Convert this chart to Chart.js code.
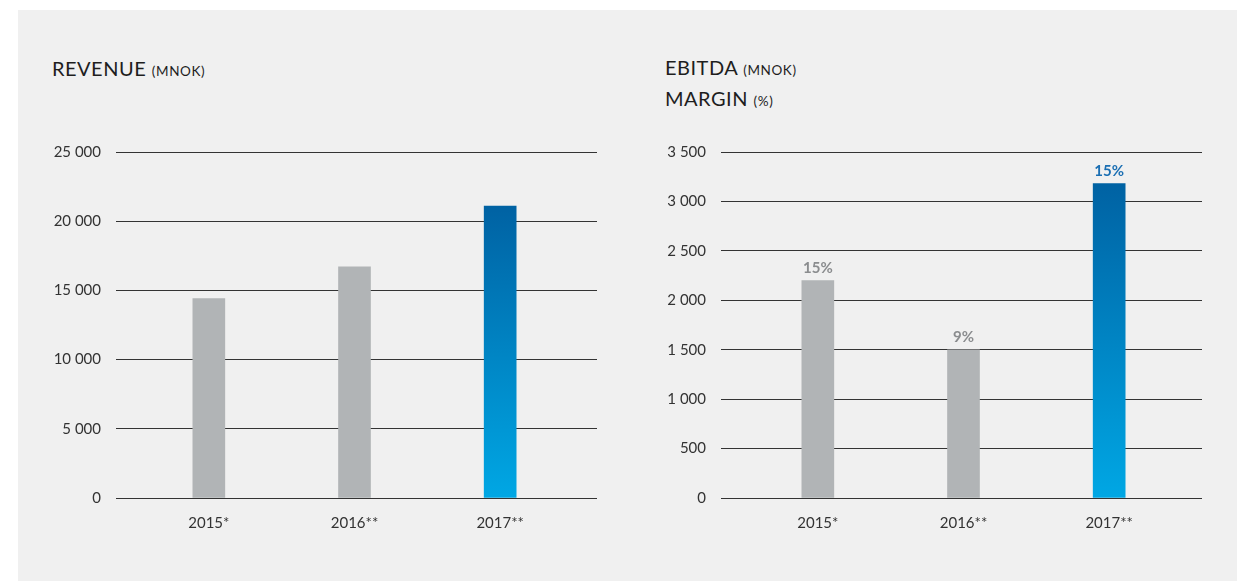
<!DOCTYPE html>
<html>
<head>
<meta charset="utf-8">
<script src="https://cdn.jsdelivr.net/npm/chart.js@4.4.1/dist/chart.umd.min.js"></script>
<style>
  body { margin: 0; background: #fff; width: 1253px; height: 581px; overflow: hidden; font-family: Lato, sans-serif; }
  #panel { position: absolute; left: 18px; top: 10px; width: 1219px; height: 571px; background: #f0f0f0; }
  .title { position: absolute; color: #1e1e1e; font-size: 20px; line-height: 28px; letter-spacing: 0.5px; }
  .title small { font-size: 13.5px; letter-spacing: 0.6px; }
  canvas { position: absolute; top: 0; }
</style>
</head>
<body>
<div id="panel"></div>
<div class="title" style="left:52px; top:54px;">REVENUE <small>(MNOK)</small></div>
<div class="title" style="left:665px; top:53px;">EBITDA <small>(MNOK)</small><br>MARGIN <small>(%)</small></div>
<div style="position:absolute; left:0; top:0; width:626px; height:581px;"><canvas id="revenue"></canvas></div>
<div style="position:absolute; left:626px; top:0; width:627px; height:581px;"><canvas id="ebitda"></canvas></div>
<script>
// data
const years = ['2015*', '2016**', '2017**'];
const revenue = [14400, 16700, 21100];
const ebitda = [2200, 1500, 3180];
const margin = [15, 9, 15];
const revenueTicks = [0, 5000, 10000, 15000, 20000, 25000];
const ebitdaTicks = [0, 500, 1000, 1500, 2000, 2500, 3000, 3500];

const GRAY = '#b1b4b6';
const LINE = '#333';
const TEXT = '#333';

function fmt(v) {
    return String(v).replace(/\B(?=(\d{3})+(?!\d))/g, ' ');
}

function barColor(ctx) {
    if (ctx.dataIndex < 2) return GRAY;
    const chart = ctx.chart;
    if (!chart.chartArea) return '#0080c0';
    const y = chart.scales.y;
    const top = y.getPixelForValue(ctx.raw);
    const base = y.getPixelForValue(0);
    const g = chart.ctx.createLinearGradient(0, top, 0, base);
    g.addColorStop(0, '#0062a3');
    g.addColorStop(1, '#00a7e4');
    return g;
}

// percent labels above EBITDA bars
const marginLabels = {
    id: 'marginLabels',
    afterDatasetsDraw(chart) {
        if (chart.canvas.id !== 'ebitda') return;
        const c = chart.ctx;
        const meta = chart.getDatasetMeta(0);
        c.save();
        c.font = 'bold 15px Lato, sans-serif';
        c.textAlign = 'center';
        c.textBaseline = 'bottom';
        meta.data.forEach((bar, i) => {
            c.fillStyle = i === 2 ? '#1b6fb3' : '#8a8c8e';
            c.fillText(margin[i] + '%', bar.x, bar.y - 5);
        });
        c.restore();
    }
};

function makeChart(id, values, ticks, leftW, padL, padR, leftTick, rightTick) {
    const max = ticks[ticks.length - 1];
    const step = ticks[1] - ticks[0];
    return new Chart(document.getElementById(id), {
        type: 'bar',
        data: {
            labels: years,
            datasets: [{
                data: values,
                backgroundColor: barColor,
                barThickness: 32
            }]
        },
        options: {
            responsive: true,
            maintainAspectRatio: false,
            animation: false,
            layout: { padding: { left: padL, right: padR, top: 152, bottom: 0 } },
            plugins: { legend: { display: false }, tooltip: { enabled: false } },
            scales: {
                x: {
                    grid: { display: false, drawTicks: false },
                    border: { display: false },
                    ticks: { color: TEXT, font: { family: 'Lato', size: 15 }, padding: 16 },
                    afterFit(s) { s.height = 83; }
                },
                y: {
                    min: 0, max: max,
                    grid: { color: LINE, tickColor: LINE, drawTicks: true, tickLength: leftTick },
                    border: { display: false },
                    ticks: {
                        stepSize: step, color: TEXT, padding: 15,
                        font: { family: 'Lato', size: 15 },
                        callback: v => fmt(v)
                    },
                    afterFit(s) { s.width = leftW; }
                },
                y2: {
                    position: 'right',
                    min: 0, max: max,
                    grid: { drawOnChartArea: false, color: LINE, tickColor: LINE, drawTicks: true, tickLength: rightTick },
                    border: { display: false },
                    ticks: { stepSize: step, display: false }
                }
            }
        },
        plugins: [marginLabels]
    });
}

makeChart('revenue', revenue, revenueTicks, 120, 16, 29, 20, 24);
makeChart('ebitda', ebitda, ebitdaTicks, 119, 0, 51, 24, 20);
</script>
</body>
</html>
